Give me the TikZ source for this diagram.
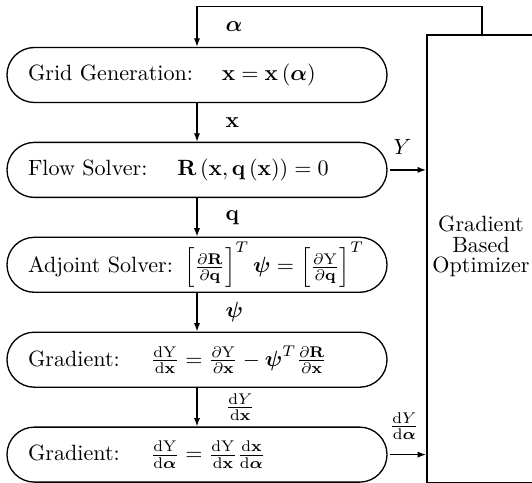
\documentclass[tikz,border=0pt]{standalone}
\usepackage{amsmath}
\usetikzlibrary{arrows.meta}
\begin{document}
\begin{tikzpicture}[x=0.4525pt,y=-0.4525pt,
  box/.style={draw, line width=0.6pt, rectangle, rounded corners=12.4pt,
    minimum width=171.95pt, minimum height=24.89pt, inner xsep=9.5pt, inner ysep=0pt,
    text width=152.9pt, align=left, font=\normalsize},
  arr/.style={-{Latex[length=3.8pt,width=2.8pt]}, line width=0.6pt},
  lbl/.style={anchor=west, inner sep=0pt, xshift=12.7pt},
  hlbl/.style={anchor=south, inner sep=0pt, yshift=6.5pt}]
\useasboundingbox (0,0) rectangle (532,483);
\node[box] (b1) at (197,75) {Grid Generation:\hspace{13pt}$\mathbf{x}=\mathbf{x}\left(\boldsymbol{\alpha}\right)$};
\node[box] (b2) at (197,169.9) {Flow Solver:\hspace{13.5pt}$\mathbf{R}\left(\mathbf{x},\mathbf{q}\left(\mathbf{x}\right)\right)=0$};
\node[box] (b3) at (197,264.8) {Adjoint Solver: $\left[\frac{\partial\mathbf{R}}{\partial\mathbf{q}}\right]^T\boldsymbol{\psi}=\left[\frac{\partial\mathrm{Y}}{\partial\mathbf{q}}\right]^T$};
\node[box] (b4) at (197,359.7) {Gradient:\hspace{14pt}$\frac{\mathrm{dY}}{\mathrm{d}\mathbf{x}}=\frac{\partial\mathrm{Y}}{\partial\mathbf{x}}-\boldsymbol{\psi}^T\frac{\partial\mathbf{R}}{\partial\mathbf{x}}$};
\node[box] (b5) at (197,454.6) {Gradient:\hspace{14pt}$\frac{\mathrm{dY}}{\mathrm{d}\boldsymbol{\alpha}}=\frac{\mathrm{dY}}{\mathrm{d}\mathbf{x}}\frac{\mathrm{d}\mathbf{x}}{\mathrm{d}\boldsymbol{\alpha}}$};
\node[draw, line width=0.8pt, anchor=north west, minimum width=49.8pt, minimum height=202.7pt, inner sep=0pt] (opt) at (426,34) {};
\node[align=center, font=\fontsize{10}{9.3}\selectfont, inner sep=0pt] (optlabel) at (481,246.7) {Gradient\\Based\\Optimizer};
\coordinate (tl) at (197,6.8);
\draw[arr] (opt.north) |- (tl) -- node[lbl] {$\boldsymbol{\alpha}$} (b1.north);
\draw[arr] (b1.south) -- node[lbl] {$\mathbf{x}$} (b2.north);
\draw[arr] (b2.south) -- node[lbl] {$\mathbf{q}$} (b3.north);
\draw[arr] (b3.south) -- node[lbl] {$\boldsymbol{\psi}$} (b4.north);
\draw[arr] (b4.south) -- node[lbl] {$\frac{\mathrm{d}Y}{\mathrm{d}\mathbf{x}}$} (b5.north);
\draw[arr] ([xshift=1pt]b2.east) -- node[hlbl, pos=0.35] {$Y$} (b2.east -| opt.west);
\draw[arr] ([xshift=1pt]b5.east) -- node[hlbl, pos=0.4] {$\frac{\mathrm{d}Y}{\mathrm{d}\boldsymbol{\alpha}}$} (b5.east -| opt.west);
\end{tikzpicture}
\end{document}
